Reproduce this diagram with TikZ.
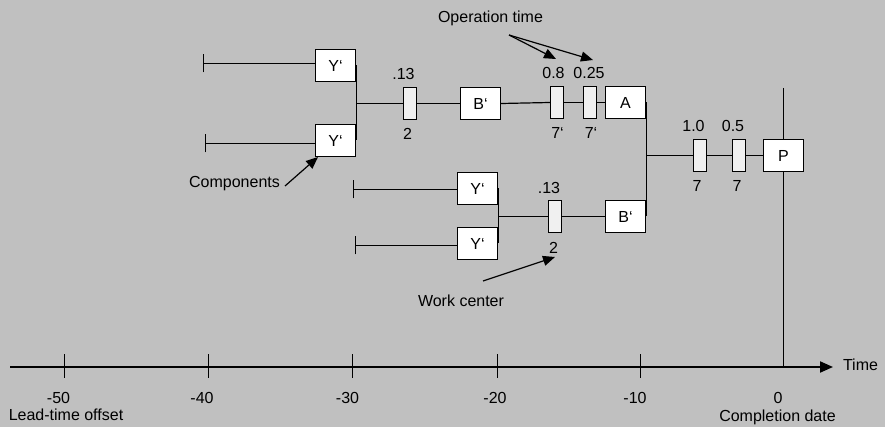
\documentclass[tikz,border=0pt]{standalone}
\usepackage{fontspec}
\setmainfont{Liberation Sans}
\usetikzlibrary{arrows.meta}
\definecolor{bg}{RGB}{192,192,192}
\definecolor{opfill}{RGB}{240,240,240}
\begin{document}
\begin{tikzpicture}[x=1pt,y=-1pt,
  font=\fontsize{16}{18}\selectfont,
  line/.style={line width=1.2pt},
  box/.style={draw, line width=1.2pt, fill=white, minimum width=40pt, minimum height=32pt, inner sep=0pt},
  oprect/.style={draw, line width=1.2pt, fill=opfill, minimum width=13pt, minimum height=32pt, inner sep=0pt},
  lbl/.style={anchor=base, inner sep=0pt},
  arr/.style={line width=1.2pt, -{Triangle[length=12pt,width=10pt]}},
  axisarr/.style={line width=2pt, -{Triangle[length=13pt,width=11pt]}},
  tickm/.style={line width=1.2pt}]
\fill[bg] (0,0) rectangle (885,427);
\useasboundingbox (0,0) rectangle (885,427);

% boxes
\node[box] (y1) at (335.5,65.5) {Y‘};
\node[box] (y2) at (335.5,140.5) {Y‘};
\node[box] (b1) at (480.5,103.5) {B‘};
\node[box] (a) at (625.5,102.5) {A};
\node[box] (y3) at (477.5,188.5) {Y‘};
\node[box] (y4) at (477.5,243.5) {Y‘};
\node[box] (b2) at (625.5,216.5) {B‘};
\node[box] (p) at (783.5,155.5) {P};

% operation rectangles
\node[oprect] (o1) at (410,103.5) {};
\node[oprect] (o2) at (557,102.5) {};
\node[oprect] (o3) at (590,102.5) {};
\node[oprect] (o4) at (700,155.5) {};
\node[oprect] (o5) at (739,155.5) {};
\node[oprect] (o6) at (555,216.5) {};

% component start ticks
\coordinate (t1) at (203.5,63.5);
\coordinate (t2) at (205.5,143.5);
\coordinate (t3) at (353.5,189.5);
\coordinate (t4) at (355.5,245.5);
\foreach \t in {t1,t2,t3,t4}{\draw[tickm] ([yshift=-9pt]\t) -- ([yshift=9pt]\t);}
\draw[line] (t1) -- (t1 -| y1.west);
\draw[line] (t2) -- (t2 -| y2.west);
\draw[line] (t3) -- (t3 -| y3.west);
\draw[line] (t4) -- (t4 -| y4.west);

% junctions
\draw[line] (y1.east) -- (y2.east);
\coordinate (j1) at (y1.east |- o1);
\draw[line] (j1) -- (o1.west);
\draw[line] (o1.east) -- (b1.west);
\draw[line] (b1.east) -- (o2.west);
\draw[line] (o2.east) -- (o3.west);
\draw[line] (o3.east) -- (a.west);

\draw[line] (y3.east) -- (y4.east);
\coordinate (j2) at (y3.east |- o6);
\draw[line] (j2) -- (o6.west);
\draw[line] (o6.east) -- (b2.west);

\draw[line] (a.east) -- (b2.east);
\coordinate (j3) at (a.east |- o4);
\draw[line] (j3) -- (o4.west);
\draw[line] (o4.east) -- (o5.west);
\draw[line] (o5.east) -- (p.west);

% completion line
\coordinate (ptop) at (783.5,88);
\coordinate (pbot) at (783.5,367);
\draw[line] (ptop) -- (p.north);
\draw[line] (p.south) -- (pbot);

% axis
\coordinate (ax0) at (10,367);
\coordinate (ax1) at (833,367);
\draw[axisarr] (ax0) -- (ax1);
\foreach \x in {64.5,208.5,352.5,497.5,640.5}{\draw[tickm] (\x,354) -- (\x,378);}

% labels
\node[lbl] (lop) at (490.5,22.7) {Operation time};
\node[lbl] (l08) at (553.5,78.3) {0.8};
\node[lbl] (l025) at (589,78.3) {0.25};
\node[lbl] (l13a) at (403.5,80) {.13};
\node[lbl] (l2a) at (407.5,140) {2};
\node[lbl] (l7a) at (557.5,138.3) {7‘};
\node[lbl] (l7b) at (591,138.3) {7‘};
\node[lbl] (l10) at (693.5,131.7) {1.0};
\node[lbl] (l05) at (733,131.7) {0.5};
\node[lbl] (l7c) at (697,191.7) {7};
\node[lbl] (l7d) at (737,191.7) {7};
\node[lbl] (l13b) at (549,193.3) {.13};
\node[lbl] (l2b) at (553.5,254) {2};
\node[lbl] (lcomp) at (234.5,188) {Components};
\node[lbl] (lwork) at (461,306.7) {Work center};
\node[lbl] (ltime) at (860.5,370) {Time};
\node[lbl] (m50) at (58.5,403) {-50};
\node[lbl] (m40) at (202,403) {-40};
\node[lbl] (m30) at (347.5,403) {-30};
\node[lbl] (m20) at (495,403) {-20};
\node[lbl] (m10) at (635,403) {-10};
\node[lbl] (z0) at (778,403) {0};
\node[lbl] (llead) at (66,420.7) {Lead-time offset};
\node[lbl] (lcd) at (777.5,421.7) {Completion date};

% annotation arrows
\coordinate (opst) at (509,35);
\coordinate (opt1) at (556,59);
\coordinate (opt2) at (593,60);
\draw[arr] (opst) -- (opt1);
\draw[arr] (opst) -- (opt2);
\coordinate (compst) at (285,186);
\coordinate (comptip) at (318,157);
\draw[arr] (compst) -- (comptip);
\coordinate (wcst) at (483,281);
\coordinate (wctip) at (555,257);
\draw[arr] (wcst) -- (wctip);
\end{tikzpicture}
\end{document}
